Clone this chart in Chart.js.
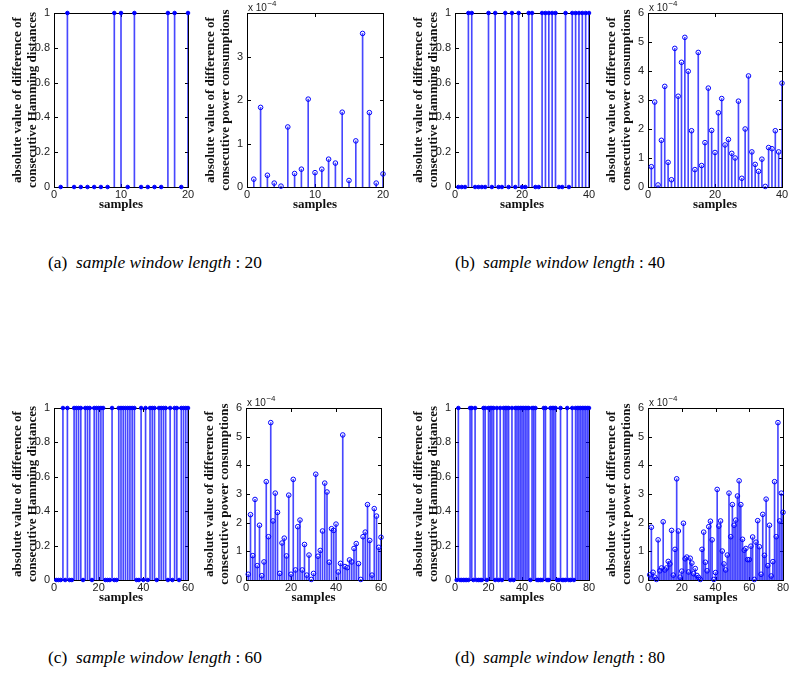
<!DOCTYPE html>
<html><head><meta charset="utf-8">
<script src="https://cdn.jsdelivr.net/npm/chart.js@4.4.0/dist/chart.umd.min.js"></script>
<style>
body{margin:0;background:#fff;width:810px;height:675px;position:relative;overflow:hidden}
canvas{position:absolute}
.cap{position:absolute;font-family:'Liberation Serif',serif;font-size:17px;line-height:20px;white-space:nowrap;color:#000;transform:translateX(-50%)}
.cap i{font-style:italic}
</style></head><body>
<div class="cap" data-w="214" style="left:155px;top:253px">(a)&nbsp; <i>sample window length</i> : 20</div>
<div class="cap" data-w="210" style="left:560px;top:253px">(b)&nbsp; <i>sample window length</i> : 40</div>
<div class="cap" data-w="214" style="left:155px;top:648px">(c)&nbsp; <i>sample window length</i> : 60</div>
<div class="cap" data-w="210" style="left:560px;top:648px">(d)&nbsp; <i>sample window length</i> : 80</div>
<script>
// ---- data (power values in units of 1e-4) ----
const hamA = [0,1,0,0,0,0,0,0,1,1, 0,1,0,0,0,0,1,1,0,1];
const powA = [0.18,1.83,0.27,0.09,0.02,1.38,0.31,0.41,2.02,0.33,0.41,0.64,0.55,1.72,0.15,1.06,3.53,1.71,0.09,0.30];
const hamB = [0,0,0,1,1,0,0,0,0,1, 0,1,0,0,1,0,1,0,1,0, 0,1,1,0,0,1,1,1,1,1, 0,0,1,0,1,1,1,1,1,1];
const powB = [0.70,2.93,0.07,1.61,3.47,0.85,0.25,4.78,3.13,4.30,
              5.16,3.99,1.94,0.60,4.64,0.74,1.53,3.41,1.95,1.19,
              2.56,3.05,1.45,1.64,1.16,1.00,2.96,0.30,2.00,3.83,
              1.21,0.78,0.54,0.96,0.02,1.36,1.32,1.94,1.21,3.58];
const hamC = [0,0,0,1,0,1,0,0,1,1, 1,1,0,1,1,1,0,1,1,1, 1,1,0,0,0,1,0,0,1,1,
              1,1,1,1,1,1,0,0,1,0, 1,0,1,1,1,0,1,1,1,1, 0,1,0,1,1,0,1,1,1,1];
const powC = [0.20,2.28,0.85,2.81,0.50,1.91,0.15,0.63,3.43,1.51,
              5.49,2.06,3.03,2.36,0.23,1.29,1.46,0.84,2.96,0.20,
              3.51,0.35,1.86,2.09,0.35,1.24,0.17,0.87,0.02,0.23,
              3.69,0.83,1.03,1.71,3.38,3.07,0.62,1.79,1.73,1.95,
              0.28,0.58,5.06,0.47,0.43,0.70,0.63,1.10,1.27,0.57,
              0.02,1.51,1.67,2.63,1.38,0.17,2.49,2.23,1.14,1.49];
const hamD = [0,1,0,0,0,0,0,0,1,1, 0,1,0,0,0,0,1,1,0,1,
              1,1,1,0,1,0,1,0,1,1, 1,1,0,1,0,1,1,1,1,1,
              1,1,1,1,0,1,1,1,0,0, 0,0,1,1,0,0,1,1,1,1,
              0,0,1,0,0,0,1,0,0,1, 0,1,1,1,1,1,1,1,1,1];
const powD = [0.18,1.84,0.27,0.10,0.02,1.40,0.32,0.42,2.03,0.35,
              0.42,0.65,0.56,1.73,0.17,1.07,3.53,1.71,0.10,0.31,
              1.98,0.74,0.80,0.28,0.76,0.59,0.22,0.40,0.16,0.09,
              0.02,1.07,1.67,0.62,0.32,1.86,2.05,1.40,0.02,0.26,
              3.16,1.88,2.06,1.01,0.56,0.35,0.87,3.03,1.51,2.63,
              1.91,2.09,2.93,3.46,2.63,1.42,1.04,1.10,0.71,0.71,
              1.18,1.50,0.02,1.32,2.07,1.16,0.20,2.29,0.86,2.82,
              0.50,1.91,0.14,0.64,3.43,1.51,5.49,2.06,3.03,2.36];
const binYTicks = [0,0.2,0.4,0.6,0.8,1];
const powYTicksA = [0,1,2,3];
const powYTicks = [0,1,2,3,4,5,6];
const xTicksA = [0,10,20];
const xTicksB = [0,20,40];
const xTicksC = [0,20,40,60];
const xTicksD = [0,20,40,60,80];
const hamTitle = ['absolute value of difference of','consecutive Hamming distances'];
const powTitle = ['absolute value of difference of','consecutive power consumptions'];
const xTitle = 'samples';

// fit caption widths
document.querySelectorAll('.cap').forEach(el=>{
  const tw=+el.dataset.w, w=el.getBoundingClientRect().width;
  el.style.fontSize=(17*tw/w).toFixed(2)+'px';
});

const STEM = 'rgba(0,0,255,0.72)';
const BLUE = '#0000ff';
const frame = {
  id:'frame',
  beforeDatasetsDraw(chart, args, opts){
    const {ctx, chartArea:a, scales:{x,y}} = chart;
    ctx.save();
    ctx.strokeStyle='#000'; ctx.lineWidth=1;
    const l=Math.round(a.left)+0.5, t=Math.round(a.top)+0.5, r=Math.round(a.right)+0.5, b=Math.round(a.bottom)+0.5;
    ctx.strokeRect(l,t,r-l,b-t);
    ctx.beginPath();
    y.ticks.forEach(tk=>{const py=Math.round(y.getPixelForValue(tk.value))+0.5;
      ctx.moveTo(l,py);ctx.lineTo(l+3.5,py);ctx.moveTo(r,py);ctx.lineTo(r-3.5,py);});
    x.ticks.forEach(tk=>{const px=Math.round(x.getPixelForValue(tk.value))+0.5;
      ctx.moveTo(px,b);ctx.lineTo(px,b-3.5);ctx.moveTo(px,t);ctx.lineTo(px,t+3.5);});
    ctx.stroke();
    ctx.restore();
  },
  afterDraw(chart, args, opts){
    if(!opts.exp) return;
    const {ctx, chartArea:a} = chart;
    ctx.save();
    ctx.fillStyle='#222';
    ctx.textBaseline='alphabetic';
    ctx.font='10px "Liberation Sans"';
    const base='x 10';
    ctx.fillText(base, a.left+1, a.top-2);
    const w=ctx.measureText(base).width;
    ctx.font='8px "Liberation Sans"';
    ctx.fillText('\u22124', a.left+1+w+0.5, a.top-7);
    ctx.restore();
  }
};

const panels = [
  {ham:true,  data:hamA, xt:xTicksA, yt:binYTicks, ymax:1, box:[54,13,134,174]},
  {ham:false, data:powA, xt:xTicksA, yt:powYTicksA, ymax:4, box:[247,13,136,174]},
  {ham:true,  data:hamB, xt:xTicksB, yt:binYTicks, ymax:1, box:[455,13,134,174]},
  {ham:false, data:powB, xt:xTicksB, yt:powYTicks, ymax:6, box:[648,13,134,174]},
  {ham:true,  data:hamC, xt:xTicksC, yt:binYTicks, ymax:1, box:[54,408,134,172]},
  {ham:false, data:powC, xt:xTicksC, yt:powYTicks, ymax:6, box:[246,408,135,172]},
  {ham:true,  data:hamD, xt:xTicksD, yt:binYTicks, ymax:1, box:[455,408,134,172]},
  {ham:false, data:powD, xt:xTicksD, yt:powYTicks, ymax:6, box:[648,408,135,172]}
];

function makePanel(p){
  const L=54, T=13, R=12, B=26;
  const [px,py,pw,ph] = p.box;
  const c = document.createElement('canvas');
  const w = pw+L+R, h = ph+T+B;
  c.width=w; c.height=h;
  c.style.left=(px-L)+'px'; c.style.top=(py-T)+'px';
  c.style.width=w+'px'; c.style.height=h+'px';
  document.body.appendChild(c);
  const n = p.data.length;
  const pts = p.data.map((v,i)=>({x:i+1,y:v}));
  const tickFont = {family:'Liberation Sans', size:11};
  const titleFont = {family:'Liberation Serif', size:13, weight:'bold', lineHeight:1.154};
  new Chart(c, {
    type:'bar',
    data:{datasets:[
      {type:'bar', data:pts, backgroundColor:STEM, barThickness:1, borderWidth:0, order:2},
      {type:'line', data:pts, showLine:false, pointStyle:'circle', pointRadius:p.ham?1.8:2.3,
       pointBorderWidth:1, pointBorderColor:BLUE, pointBackgroundColor:p.ham?BLUE:'rgba(0,0,0,0)', clip:false, order:1}
    ]},
    options:{
      responsive:false, animation:false, events:[],
      layout:{padding:{left:0,top:T,right:R,bottom:0}},
      plugins:{legend:{display:false}, tooltip:{enabled:false}, frame:{exp:!p.ham}},
      scales:{
        x:{type:'linear', min:0, max:n, offset:false,
           grid:{display:false, drawTicks:false}, border:{display:false},
           afterBuildTicks:s=>{s.ticks=p.xt.map(v=>({value:v}));},
           afterFit:s=>{s.height=B;},
           ticks:{padding:1, color:'#222', font:tickFont, maxRotation:0, autoSkip:false, callback:v=>String(v)},
           title:{display:true, text:xTitle, color:'#111', padding:{top:0,bottom:0.5}, font:titleFont}},
        y:{type:'linear', min:0, max:p.ymax,
           grid:{display:false, drawTicks:false}, border:{display:false},
           afterBuildTicks:s=>{s.ticks=p.yt.map(v=>({value:v}));},
           afterFit:s=>{s.width=L;},
           ticks:{padding:4, color:'#222', font:tickFont, autoSkip:false,
                  callback:v=>(p.ham && v>0 && v<1)?v.toFixed(1):String(v)},
           title:{display:true, text:p.ham?hamTitle:powTitle, color:'#111', padding:{top:10.5,bottom:0}, font:titleFont}}
      }
    },
    plugins:[frame]
  });
}
panels.forEach(makePanel);
</script>
</body></html>
